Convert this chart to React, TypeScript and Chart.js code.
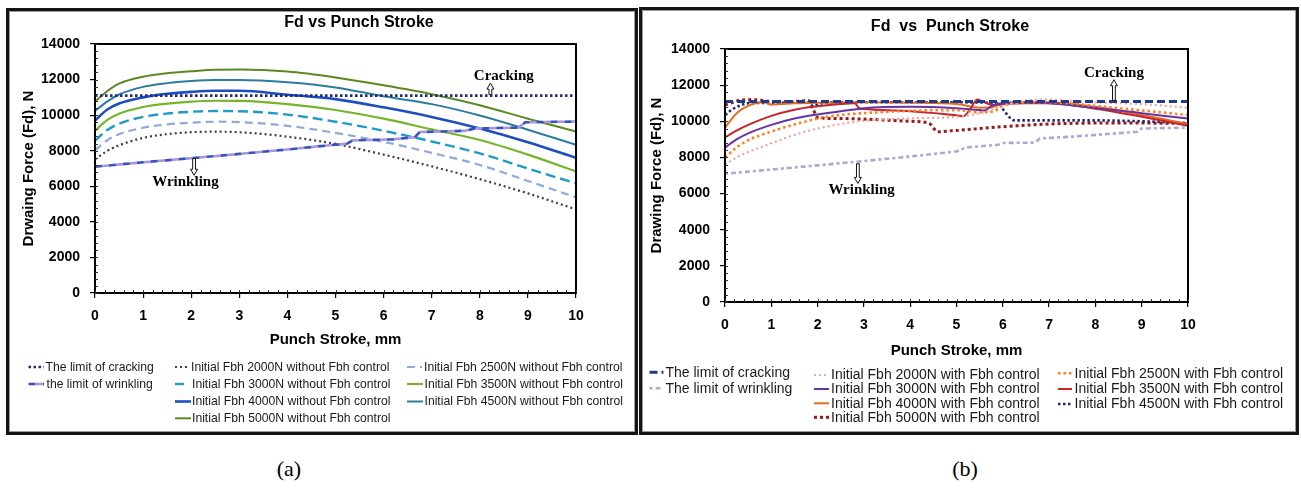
import React, { useEffect, useRef } from 'react';
import { Chart, registerables } from 'chart.js';

Chart.register(...registerables);

const SANS = '"Liberation Sans", Arial, sans-serif';
const SERIF = '"Liberation Serif", "Times New Roman", serif';

// ---------- shared ticks ----------
const strokeTicks = [0, 1, 2, 3, 4, 5, 6, 7, 8, 9, 10];
const forceTicks = [0, 2000, 4000, 6000, 8000, 10000, 12000, 14000];
const strokeMinor = Array.from({ length: 51 }, (_, i) => i * 0.2);
const forceMinor = Array.from({ length: 36 }, (_, i) => i * 400);

// ---------- panel (a): without Fbh control ----------
const limitStroke = [0, 10];
const crackLimitA = [11100, 11100];
const wrinkStrokeA = [0, 1, 2, 3, 4, 5, 5.25, 5.35, 6.2, 6.65, 6.75, 7.7, 7.9, 8.8, 8.95, 10];
const wrinkLimitA = [7100, 7350, 7580, 7820, 8070, 8340, 8400, 8580, 8640, 8760, 9050, 9120, 9250, 9300, 9600, 9640];
const strokeA = [0, 0.25, 0.5, 1, 1.5, 2, 2.5, 3, 4, 5, 6, 7, 8, 9, 10];
const fd2000A = [7520, 7980, 8300, 8720, 8930, 9040, 9070, 9040, 8790, 8380, 7780, 7120, 6400, 5600, 4700];
const fd2500A = [8020, 8580, 8930, 9290, 9480, 9580, 9630, 9610, 9400, 9000, 8500, 7880, 7200, 6300, 5380];
const fd3000A = [8560, 9150, 9520, 9900, 10090, 10190, 10230, 10220, 10030, 9630, 9120, 8520, 7850, 7000, 6160];
const fd3500A = [9120, 9720, 10080, 10460, 10650, 10760, 10810, 10800, 10620, 10290, 9800, 9200, 8600, 7780, 6840];
const fd4000A = [9700, 10300, 10650, 11000, 11200, 11310, 11370, 11370, 11150, 10900, 10440, 9900, 9250, 8480, 7600];
const fd4500A = [10230, 10760, 11160, 11590, 11800, 11920, 11980, 11980, 11850, 11560, 11060, 10620, 9980, 9180, 8330];
const fd5000A = [10760, 11340, 11770, 12160, 12360, 12470, 12550, 12560, 12450, 12120, 11680, 11180, 10560, 9800, 9080];

// ---------- panel (b): with Fbh control ----------
const crackLimitB = [11100, 11100];
const wrinkStrokeB = [0, 1, 2, 3, 4, 5, 5.2, 5.9, 6.0, 6.7, 6.8, 7.5, 8.9, 9.0, 10];
const wrinkLimitB = [7100, 7330, 7560, 7800, 8050, 8330, 8550, 8700, 8800, 8820, 9050, 9150, 9420, 9600, 9650];
const s2000B = [0, 0.25, 0.5, 1, 1.5, 2, 2.5, 3, 4, 5, 5.5, 6, 6.5, 7, 7.5, 8, 9, 10];
const f2000B = [7600, 8000, 8300, 8780, 9250, 9600, 9850, 10030, 10160, 10250, 10450, 10850, 11150, 11200, 11100, 11050, 10950, 10750];
const s2500B = [0, 0.25, 0.5, 1, 1.5, 2, 2.5, 3, 4, 5, 5.5, 5.8, 6, 6.5, 7, 8, 9, 10];
const f2500B = [8000, 8550, 8950, 9430, 9820, 10150, 10350, 10450, 10580, 10620, 10500, 10550, 10850, 11050, 11050, 10850, 10600, 10350];
const s3000B = [0, 0.25, 0.5, 1, 1.5, 2, 2.5, 2.8, 3, 4, 5, 5.5, 5.6, 5.8, 6, 6.5, 7, 8, 9, 10];
const f3000B = [8550, 9000, 9330, 9800, 10150, 10380, 10560, 10650, 10720, 10800, 10720, 10620, 10600, 10900, 11000, 11050, 11000, 10750, 10450, 10150];
const s3500B = [0, 0.25, 0.5, 1, 1.5, 2, 2.5, 2.8, 2.9, 3, 4, 5, 5.15, 5.3, 5.45, 5.6, 5.8, 6, 6.5, 7, 8, 9, 10];
const f3500B = [9100, 9480, 9800, 10300, 10640, 10830, 10960, 11000, 10720, 10680, 10550, 10330, 10280, 10700, 11200, 11050, 10900, 10950, 11000, 11000, 10700, 10250, 9750];
const s4000B = [0, 0.15, 0.3, 0.5, 0.7, 0.85, 1.0, 1.2, 1.5, 2, 3, 4, 5, 5.5, 5.8, 6, 6.5, 7, 8, 9, 10];
const f4000B = [9650, 10150, 10550, 10850, 11020, 11050, 10920, 10950, 11000, 11020, 11050, 11030, 10950, 10750, 10800, 11000, 11050, 11050, 10800, 10350, 9850];
const s4500B = [0, 0.15, 0.3, 0.5, 1, 1.8, 1.9, 2.1, 2.5, 3, 4, 5, 5.9, 6.05, 6.25, 7, 8, 9, 10];
const f4500B = [10350, 10650, 10850, 11000, 11020, 11030, 10850, 11000, 11050, 11050, 11050, 11050, 11000, 10500, 10050, 10050, 10050, 10000, 9900];
const s5000B = [0, 0.3, 0.6, 1, 1.5, 1.8, 1.9, 2.0, 2.5, 3, 4, 4.4, 4.6, 4.9, 5.5, 6, 7, 8, 9, 10];
const f5000B = [10900, 11150, 11200, 11100, 11100, 11150, 10700, 10200, 10150, 10120, 10000, 9900, 9420, 9480, 9600, 9700, 9850, 9900, 9900, 9880];

// ---------- helpers ----------
function pts(xs: number[], ys: number[]) {
  return xs.map((x, i) => ({ x, y: ys[i] }));
}

function series(label: string, xs: number[], ys: number[], color: string, width: number, dash: number[], smooth: boolean, extra: any = {}) {
  return {
    label,
    data: pts(xs, ys),
    borderColor: color,
    backgroundColor: color,
    borderWidth: width,
    borderDash: dash,
    pointRadius: 0,
    fill: false,
    tension: smooth ? 0.4 : 0,
    cubicInterpolationMode: smooth ? 'monotone' : 'default',
    ...extra,
  };
}

type LegendItem = { ds: number[]; label: string; x0: number; x1: number; tx: number; y: number };
type Note = { text: string; tx: number; ty: number; ax: number; a0: number; a1: number };
type Decor = {
  title: string; titleX: number; titleY: number;
  yTitle: string; yTitleX: number; xTitle: string; xTitleY: number;
  legendFont: number; legend: LegendItem[]; notes: Note[];
};

function hollowArrow(ctx: CanvasRenderingContext2D, x: number, yFrom: number, yTo: number) {
  const dir = Math.sign(yTo - yFrom);
  const headLen = 6;
  const hw = 3.5;
  const sw = 1.4;
  const yBase = yTo - dir * headLen;
  ctx.beginPath();
  ctx.moveTo(x - sw, yFrom);
  ctx.lineTo(x - sw, yBase);
  ctx.lineTo(x - hw, yBase);
  ctx.lineTo(x, yTo);
  ctx.lineTo(x + hw, yBase);
  ctx.lineTo(x + sw, yBase);
  ctx.lineTo(x + sw, yFrom);
  ctx.closePath();
  ctx.fillStyle = '#fff';
  ctx.fill();
  ctx.lineWidth = 1;
  ctx.strokeStyle = '#111';
  ctx.setLineDash([]);
  ctx.stroke();
}

const decorPlugin = {
  id: 'decor',
  afterDraw(chart: any, _args: any, opts: Decor) {
    const ctx: CanvasRenderingContext2D = chart.ctx;
    const { left, right, top, bottom } = chart.chartArea;
    const xs = chart.scales.x;
    const ys = chart.scales.y;
    ctx.save();
    // frame
    ctx.setLineDash([]);
    ctx.strokeStyle = '#000';
    ctx.lineWidth = 2;
    ctx.strokeRect(left, top, right - left, bottom - top);
    // minor ticks (inside)
    ctx.lineWidth = 1;
    ctx.strokeStyle = '#333';
    ctx.beginPath();
    strokeMinor.forEach((v) => {
      const px = Math.round(xs.getPixelForValue(v)) + 0.5;
      ctx.moveTo(px, bottom);
      ctx.lineTo(px, bottom - 3);
    });
    forceMinor.forEach((v) => {
      const py = Math.round(ys.getPixelForValue(v)) + 0.5;
      ctx.moveTo(left, py);
      ctx.lineTo(left + 3, py);
    });
    ctx.stroke();

    // titles
    ctx.fillStyle = '#000';
    ctx.textAlign = 'center';
    ctx.textBaseline = 'middle';
    ctx.font = `bold 16px ${SANS}`;
    ctx.fillText(opts.title, opts.titleX, opts.titleY);
    ctx.font = `bold 15px ${SANS}`;
    ctx.fillText(opts.xTitle, (left + right) / 2, opts.xTitleY);
    ctx.save();
    ctx.translate(opts.yTitleX, (top + bottom) / 2);
    ctx.rotate(-Math.PI / 2);
    ctx.fillText(opts.yTitle, 0, 0);
    ctx.restore();

    // notes
    opts.notes.forEach((n) => {
      const ax = xs.getPixelForValue(n.ax);
      hollowArrow(ctx, ax, ys.getPixelForValue(n.a0), ys.getPixelForValue(n.a1));
      ctx.fillStyle = '#000';
      ctx.font = `bold 15px ${SERIF}`;
      ctx.textAlign = 'center';
      ctx.textBaseline = 'middle';
      ctx.fillText(n.text, xs.getPixelForValue(n.tx), ys.getPixelForValue(n.ty));
    });

    // legend
    opts.legend.forEach((it) => {
      it.ds.forEach((di) => {
        const ds = chart.data.datasets[di];
        ctx.strokeStyle = ds.borderColor;
        ctx.lineWidth = ds.borderWidth;
        ctx.setLineDash(ds.borderDash || []);
        ctx.lineDashOffset = ds.borderDashOffset || 0;
        ctx.beginPath();
        ctx.moveTo(it.x0, it.y);
        ctx.lineTo(it.x1, it.y);
        ctx.stroke();
      });
      ctx.setLineDash([]);
      ctx.lineDashOffset = 0;
      ctx.fillStyle = '#1a1a1a';
      ctx.font = `${opts.legendFont}px ${SANS}`;
      ctx.textAlign = 'left';
      ctx.textBaseline = 'middle';
      ctx.fillText(it.label, it.tx, it.y + 0.5);
    });
    ctx.restore();
  },
};

function makeScales() {
  const tickFont = { family: SANS, size: 14, weight: 'bold' as const };
  return {
    x: {
      type: 'linear',
      min: 0,
      max: 10,
      afterFit: (s: any) => { s.height = 40; },
      afterBuildTicks: (s: any) => { s.ticks = strokeTicks.map((v) => ({ value: v })); },
      ticks: { font: tickFont, color: '#000', padding: 10, autoSkip: false, maxRotation: 0, callback: (v: any) => String(v) },
      grid: { drawOnChartArea: false, drawTicks: true, tickLength: 5, color: '#000', lineWidth: 1.2 },
      border: { display: true, color: '#000', width: 2 },
    },
    y: {
      type: 'linear',
      min: 0,
      max: 14000,
      afterFit: (s: any) => { s.width = 70; },
      afterBuildTicks: (s: any) => { s.ticks = forceTicks.map((v) => ({ value: v })); },
      ticks: { font: tickFont, color: '#000', padding: 10, autoSkip: false, callback: (v: any) => String(v) },
      grid: { drawOnChartArea: false, drawTicks: true, tickLength: 5, color: '#000', lineWidth: 1.2 },
      border: { display: true, color: '#000', width: 2 },
    },
  };
}

function buildA() {
  const datasets = [
    series('The limit of cracking', limitStroke, crackLimitA, '#1F2A7E', 2.6, [2.5, 2.5], false),
    series('the limit of wrinkling', wrinkStrokeA, wrinkLimitA, '#3552BE', 2.6, [7, 7], false),
    series('', wrinkStrokeA, wrinkLimitA, '#A897D8', 2.6, [7, 7], false, { borderDashOffset: 7 }),
    series('Initial Fbh 2000N without Fbh control', strokeA, fd2000A, '#404040', 2.2, [2, 3], true),
    series('Initial Fbh 2500N without Fbh control', strokeA, fd2500A, '#8EA9DB', 2.2, [8, 5], true),
    series('Initial Fbh 3000N without Fbh control', strokeA, fd3000A, '#1F9BC8', 2.4, [10, 5], true),
    series('Initial Fbh 3500N without Fbh control', strokeA, fd3500A, '#76B52B', 2.2, [], true),
    series('Initial Fbh 4000N without Fbh control', strokeA, fd4000A, '#1D4EC0', 2.6, [], true),
    series('Initial Fbh 4500N without Fbh control', strokeA, fd4500A, '#2B7C9E', 2.0, [], true),
    series('Initial Fbh 5000N without Fbh control', strokeA, fd5000A, '#5A8A1F', 2.0, [], true),
  ];
  const r = [356, 373, 390.5, 407.3];
  const legend: LegendItem[] = [
    { ds: [0], label: datasets[0].label, x0: 19.5, x1: 35, tx: 36.5, y: r[0] },
    { ds: [1, 2], label: datasets[1].label, x0: 19.5, x1: 35, tx: 37.5, y: r[1] },
    { ds: [3], label: datasets[3].label, x0: 166, x1: 180, tx: 182, y: r[0] },
    { ds: [5], label: datasets[5].label, x0: 166, x1: 175, tx: 183, y: r[1] },
    { ds: [7], label: datasets[7].label, x0: 166, x1: 182, tx: 183, y: r[2] },
    { ds: [9], label: datasets[9].label, x0: 166, x1: 182, tx: 183, y: r[3] },
    { ds: [4], label: datasets[4].label, x0: 398, x1: 413, tx: 415, y: r[0] },
    { ds: [6], label: datasets[6].label, x0: 398, x1: 414, tx: 415.5, y: r[1] },
    { ds: [8], label: datasets[8].label, x0: 398, x1: 414, tx: 415.5, y: r[2] },
  ];
  const decor: Decor = {
    title: 'Fd vs Punch Stroke', titleX: 350, titleY: 11.5,
    yTitle: 'Drwaing Force (Fd), N', yTitleX: 19.5,
    xTitle: 'Punch Stroke, mm', xTitleY: 329,
    legendFont: 12.2, legend,
    notes: [
      { text: 'Cracking', tx: 8.5, ty: 12200, ax: 8.22, a0: 11150, a1: 11800 },
      { text: 'Wrinkling', tx: 1.88, ty: 6230, ax: 2.06, a0: 7560, a1: 6620 },
    ],
  };
  return { datasets, decor, padding: { left: 16, right: 59, top: 33, bottom: 99 } };
}

function buildB() {
  const datasets = [
    series('The limit of cracking', limitStroke, crackLimitB, '#1F3C8C', 3, [8, 4], false),
    series('The limit of wrinkling', wrinkStrokeB, wrinkLimitB, '#B2A5D6', 2.6, [3, 3, 5, 3], false),
    series('Initial Fbh 2000N with Fbh control', s2000B, f2000B, '#EFA3A3', 2.2, [2, 3], true),
    series('Initial Fbh 2500N with Fbh control', s2500B, f2500B, '#FF7F1F', 2.6, [2.5, 3], true),
    series('Initial Fbh 3000N with Fbh control', s3000B, f3000B, '#6534A6', 2.0, [], true),
    series('Initial Fbh 3500N with Fbh control', s3500B, f3500B, '#C4262B', 2.0, [], true),
    series('Initial Fbh 4000N with Fbh control', s4000B, f4000B, '#E46D1C', 2.0, [], true),
    series('Initial Fbh 4500N with Fbh control', s4500B, f4500B, '#25256F', 2.6, [2.5, 2.5], true),
    series('Initial Fbh 5000N with Fbh control', s5000B, f5000B, '#981A1A', 3.0, [3, 3], true),
  ];
  const legend: LegendItem[] = [
    { ds: [0], label: datasets[0].label, x0: 7.5, x1: 21.5, tx: 23.5, y: 362.3 },
    { ds: [1], label: datasets[1].label, x0: 7.5, x1: 21.5, tx: 23.5, y: 378.3 },
    { ds: [2], label: datasets[2].label, x0: 172, x1: 187, tx: 189, y: 365 },
    { ds: [4], label: datasets[4].label, x0: 172, x1: 187, tx: 189, y: 379 },
    { ds: [6], label: datasets[6].label, x0: 172, x1: 187, tx: 189, y: 393.3 },
    { ds: [8], label: datasets[8].label, x0: 172, x1: 187, tx: 189, y: 407.3 },
    { ds: [3], label: datasets[3].label, x0: 416, x1: 430, tx: 432.5, y: 363.3 },
    { ds: [5], label: datasets[5].label, x0: 416, x1: 430, tx: 432.5, y: 379 },
    { ds: [7], label: datasets[7].label, x0: 416, x1: 430, tx: 432.5, y: 394 },
  ];
  const decor: Decor = {
    title: 'Fd  vs  Punch Stroke', titleX: 308, titleY: 16.7,
    yTitle: 'Drawing Force (Fd), N', yTitleX: 15,
    xTitle: 'Punch Stroke, mm', xTitleY: 341,
    legendFont: 14, legend,
    notes: [
      { text: 'Cracking', tx: 8.4, ty: 12650, ax: 8.4, a0: 11150, a1: 12300 },
      { text: 'Wrinkling', tx: 2.95, ty: 6170, ax: 2.87, a0: 7650, a1: 6560 },
    ],
  };
  return { datasets, decor, padding: { left: 13, right: 108, top: 39, bottom: 90 } };
}

function Panel({ build, width, height }: { build: () => any; width: number; height: number }) {
  const ref = useRef<HTMLCanvasElement | null>(null);
  useEffect(() => {
    if (!ref.current) return;
    const { datasets, decor, padding } = build();
    const chart = new Chart(ref.current, {
      type: 'line',
      data: { datasets },
      options: {
        animation: false,
        responsive: false,
        maintainAspectRatio: false,
        devicePixelRatio: 1,
        layout: { padding },
        plugins: {
          legend: { display: false },
          tooltip: { enabled: false },
          title: { display: false },
          decor,
        } as any,
        scales: makeScales() as any,
      },
      plugins: [decorPlugin as any],
    } as any);
    return () => chart.destroy();
  }, [build]);
  return <canvas ref={ref} width={width} height={height} style={{ display: 'block', width, height }} />;
}

const frameStyle = (left: number, top: number, w: number, h: number): React.CSSProperties => ({
  position: 'absolute',
  left,
  top,
  width: w,
  height: h,
  border: '3px solid #151515',
  boxShadow: 'inset 0 0 0 1px #9a9a9a',
  background: '#fff',
});

const capStyle = (cx: number): React.CSSProperties => ({
  position: 'absolute',
  left: cx - 30,
  top: 455,
  width: 60,
  textAlign: 'center',
  fontFamily: SERIF,
  fontSize: 22,
  lineHeight: '28px',
  color: '#000',
});

export default function App() {
  return (
    <div style={{ position: 'fixed', left: 0, top: 0, width: 1301, height: 488, background: '#fff', overflow: 'hidden' }}>
      <div style={frameStyle(6, 8, 626, 421)}>
        <Panel build={buildA} width={626} height={421} />
      </div>
      <div style={frameStyle(639, 7, 654, 422)}>
        <Panel build={buildB} width={654} height={422} />
      </div>
      <div style={capStyle(289)}>(a)</div>
      <div style={capStyle(965)}>(b)</div>
    </div>
  );
}
